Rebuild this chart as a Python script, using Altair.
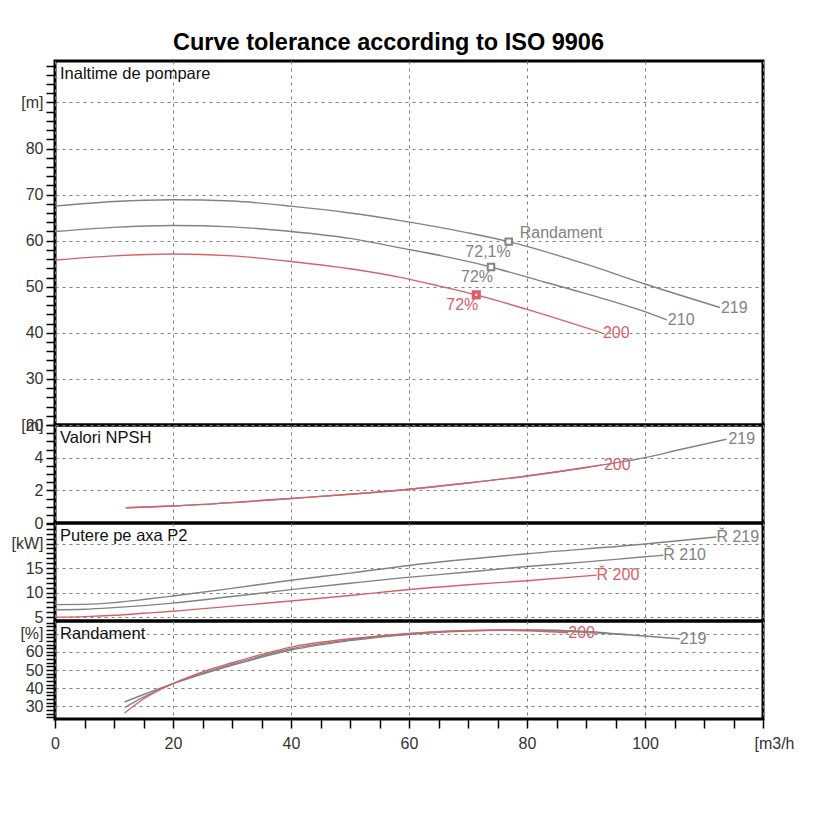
import altair as alt
import pandas as pd

GRAY = "#828282"
RED = "#d9606a"
FONT = "Liberation Sans"

series = ["219", "210", "200"]

# ---------------- Head (Inaltime de pompare) ----------------
head_q_219 = [0, 10, 20, 30, 40, 50, 58.3, 70, 76.9, 90, 100, 112.7]
head_v_219 = [67.5, 68.5, 68.9, 68.6, 67.5, 66.0, 64.4, 61.7, 59.8, 54.9, 50.6, 45.5]
head_q_210 = [0, 10, 20, 30, 40, 50, 58.3, 66, 73.9, 80, 90, 100, 103.7]
head_v_210 = [62.0, 62.9, 63.3, 63.0, 62.0, 60.5, 58.5, 56.6, 54.3, 52.1, 48.5, 44.6, 42.8]
head_q_200 = [0, 10, 20, 30, 40, 50, 58.3, 65, 71.4, 80, 92.7]
head_v_200 = [55.8, 56.7, 57.1, 56.7, 55.5, 53.9, 52.1, 50.2, 48.25, 45.1, 40.0]

# duty points (efficiency markers)
duty_q = [76.9, 73.9, 71.4]
duty_h = [59.8, 54.3, 48.25]
duty_text = ["72,1%", "72%", "72%"]
duty_series = ["219", "210", "200"]

# ---------------- NPSH ----------------
npsh_q_219 = [12, 20, 30, 40, 50, 60, 70, 80, 90, 100, 106, 113.8]
npsh_v_219 = [0.93, 1.04, 1.25, 1.5, 1.76, 2.07, 2.45, 2.88, 3.4, 4.0, 4.5, 5.13]
npsh_q_200 = [12, 20, 30, 40, 50, 60, 70, 80, 90, 92.7]
npsh_v_200 = [0.93, 1.04, 1.25, 1.5, 1.76, 2.07, 2.45, 2.88, 3.4, 3.56]

# ---------------- Power P2 ----------------
pow_q_219 = [0, 5, 10, 15, 20, 30, 40, 50, 60, 80, 100, 112.1]
pow_v_219 = [7.54, 7.59, 7.95, 8.58, 9.30, 10.86, 12.52, 13.98, 15.54, 17.92, 19.90, 21.35]
pow_q_210 = [0, 5, 10, 15, 20, 30, 40, 50, 58.3, 70, 80, 90, 100, 103.1]
pow_v_210 = [6.50, 6.60, 6.92, 7.33, 7.85, 9.20, 10.60, 11.90, 12.94, 14.19, 15.33, 16.26, 17.30, 17.61]
pow_q_200 = [0, 5, 10, 15, 20, 30, 40, 50, 58.3, 70, 80, 91.8]
pow_v_200 = [4.99, 5.10, 5.36, 5.77, 6.19, 7.23, 8.27, 9.41, 10.41, 11.59, 12.42, 13.56]

# ---------------- Efficiency (Randament) ----------------
eff_q_219 = [11.8, 15, 20, 25, 30, 40, 50, 60, 70, 80, 90, 95.6, 100, 105.9]
eff_v_219 = [32.4, 36.5, 42.5, 47.8, 52.6, 61.0, 66.2, 69.6, 71.5, 72.0, 71.2, 69.8, 68.7, 67.2]
eff_q_210 = [11.8, 15, 20, 25, 30, 40, 50, 60, 70, 80, 90, 97]
eff_v_210 = [29.3, 35.0, 42.5, 48.2, 53.2, 61.7, 66.7, 70.0, 71.7, 71.9, 70.8, 69.4]
eff_q_200 = [11.8, 15, 20, 25, 30, 35, 40, 50, 60, 70, 75, 80, 87]
eff_v_200 = [26.3, 34.0, 42.5, 49.0, 54.0, 58.6, 62.6, 67.2, 70.2, 71.8, 72.0, 71.6, 70.5]

# end-of-curve labels (None = no label)
head_end_text = ["219", "210", "200"]
npsh_end_text = ["219", "200"]
pow_end_text = ["Ř 219", "Ř 210", "Ř 200"]
eff_end_text = ["219", None, "200"]


def lines_df(pairs):
    rows = []
    for s, qs, vs in pairs:
        for i, (q, v) in enumerate(zip(qs, vs)):
            rows.append({"q": q, "v": v, "s": s, "o": i})
    return pd.DataFrame(rows)


def ends_df(pairs, texts):
    rows = []
    for (s, qs, vs), t in zip(pairs, texts):
        if t is not None:
            rows.append({"q": qs[-1], "v": vs[-1], "s": s, "t": t})
    return pd.DataFrame(rows)


color_scale = alt.Scale(domain=series, range=[GRAY, GRAY, RED])
width_scale = alt.Scale(domain=series, range=[1.4, 1.4, 1.6])

W = 708
GRID = dict(grid=True, gridColor="#808080", gridDash=[3, 4], gridWidth=1)


def x_enc(bottom):
    if bottom:
        ax = alt.Axis(
            values=list(range(0, 121, 5)), tickCount=200, title=None, domain=False,
            format="~g",
            tickColor="black", tickSize=9, tickWidth=1.5,
            labelFont=FONT, labelFontSize=16, labelColor="#333", labelPadding=7,
            labelOverlap=False, labelFlush=False,
            labelExpr="datum.value % 20 == 0 ? (datum.value == 120 ? '[m3/h' : datum.label) : ''",
            labelOffset={"condition": {"test": "datum.value == 120", "value": 11}, "value": 0},
            gridOpacity={"condition": {"test": "datum.value % 20 == 0", "value": 1}, "value": 0},
            **GRID,
        )
    else:
        ax = alt.Axis(
            values=[0, 20, 40, 60, 80, 100, 120], tickCount=200, title=None, domain=False,
            labels=False, ticks=False, minExtent=0, maxExtent=0, **GRID,
        )
    return alt.X("q:Q", scale=alt.Scale(domain=[0, 120], nice=False, zero=False), axis=ax)


def y_enc(domain, ticks, major, unit_value, unit_label):
    test = f"datum.value % {major} == 0"
    ax = alt.Axis(
        values=ticks, tickCount=200, title=None, domain=False, format="~g",
        tickColor="black", tickSize=9, tickWidth=1.5,
        labelFont=FONT, labelFontSize=16, labelColor="#333", labelPadding=3,
        labelOverlap=False, labelFlush=False,
        labelExpr=f"{test} ? (datum.value == {unit_value} ? '{unit_label}' : datum.label) : ''",
        gridOpacity={"condition": {"test": test, "value": 1}, "value": 0},
        minExtent=44, maxExtent=44, **GRID,
    )
    return alt.Y("v:Q", scale=alt.Scale(domain=domain, nice=False, zero=False), axis=ax)


def panel(pairs, end_texts, domain, height, ticks, major, unit_value, unit_label,
          caption, bottom=False, extra=None, label_dx=2):
    data = lines_df(pairs)
    X = x_enc(bottom)
    Y = y_enc(domain, ticks, major, unit_value, unit_label)
    lines = alt.Chart(data).mark_line(interpolate="monotone").encode(
        x=X, y=Y, order="o:Q",
        color=alt.Color("s:N", scale=color_scale, legend=None),
        strokeWidth=alt.StrokeWidth("s:N", scale=width_scale, legend=None),
        detail="s:N",
    )
    ends = alt.Chart(ends_df(pairs, end_texts)).mark_text(
        align="left", baseline="middle", dx=label_dx, font=FONT, fontSize=16
    ).encode(
        x="q:Q", y="v:Q", text="t:N",
        color=alt.Color("s:N", scale=color_scale, legend=None),
    )
    cap = alt.Chart(pd.DataFrame({"t": [caption]})).mark_text(
        align="left", baseline="top", font=FONT, fontSize=16.5, color="#111"
    ).encode(x=alt.value(5), y=alt.value(5), text="t:N")
    layers = [lines, ends]
    if extra:
        layers += extra
    layers.append(cap)
    return alt.layer(*layers).properties(width=W, height=height)


# head panel extras: duty markers and labels
duty = pd.DataFrame({"q": duty_q, "v": duty_h, "t": duty_text, "s": duty_series})
duty_gray = duty[duty["s"] != "200"]
duty_red = duty[duty["s"] == "200"]
mk_gray = alt.Chart(duty_gray).mark_point(
    shape="square", filled=True, fill="white", stroke=GRAY, strokeWidth=2, size=42, opacity=1
).encode(x="q:Q", y="v:Q")
mk_red = alt.Chart(duty_red).mark_point(
    shape="square", filled=True, color=RED, size=85, opacity=1
).encode(x="q:Q", y="v:Q")
mk_red_dot = alt.Chart(duty_red).mark_point(
    shape="square", filled=True, color="white", size=4, opacity=1
).encode(x="q:Q", y="v:Q")
duty_lbl = alt.Chart(duty).mark_text(
    align="right", baseline="middle", dx=2, dy=10.5, font=FONT, fontSize=16
).encode(x="q:Q", y="v:Q", text="t:N",
         color=alt.Color("s:N", scale=color_scale, legend=None))
rand_lbl = alt.Chart(duty.iloc[[0]]).mark_text(
    align="left", baseline="middle", dx=11, dy=-9, font=FONT, fontSize=16, color=GRAY
).encode(x="q:Q", y="v:Q", text=alt.value("Randament"))

head = panel(
    [("219", head_q_219, head_v_219), ("210", head_q_210, head_v_210),
     ("200", head_q_200, head_v_200)],
    head_end_text, [20, 99], 364, list(range(20, 99, 2)), 10, 90, "[m]",
    "Inaltime de pompare",
    extra=[mk_gray, mk_red, mk_red_dot, duty_lbl, rand_lbl], label_dx=1,
)

npsh = panel(
    [("219", npsh_q_219, npsh_v_219), ("200", npsh_q_200, npsh_v_200)],
    npsh_end_text, [0, 6], 98, [i * 0.5 for i in range(0, 13)], 2, 6, "[m]",
    "Valori NPSH",
)

power = panel(
    [("219", pow_q_219, pow_v_219), ("210", pow_q_210, pow_v_210),
     ("200", pow_q_200, pow_v_200)],
    pow_end_text, [4.2, 24.2], 98, list(range(5, 25)), 5, 20, "[kW]",
    "Putere pe axa P2", label_dx=0,
)

eff = panel(
    [("219", eff_q_219, eff_v_219), ("210", eff_q_210, eff_v_210),
     ("200", eff_q_200, eff_v_200)],
    eff_end_text, [23, 77], 98, list(range(24, 77, 2)), 10, 70, "[%]",
    "Randament", bottom=True, label_dx=0,
)

chart = alt.vconcat(head, npsh, power, eff, spacing=0, bounds="flush").properties(
    title=alt.TitleParams(
        "Curve tolerance according to ISO 9906", font=FONT, fontSize=23.5,
        fontWeight="bold", color="black", anchor="middle", offset=2, dx=-14,
    ),
    padding={"left": 1, "top": 22, "right": 5, "bottom": 5},
    background="white",
).configure_view(stroke="black", strokeWidth=3)

chart.save("out.html", embed_options={"renderer": "svg", "actions": False})
